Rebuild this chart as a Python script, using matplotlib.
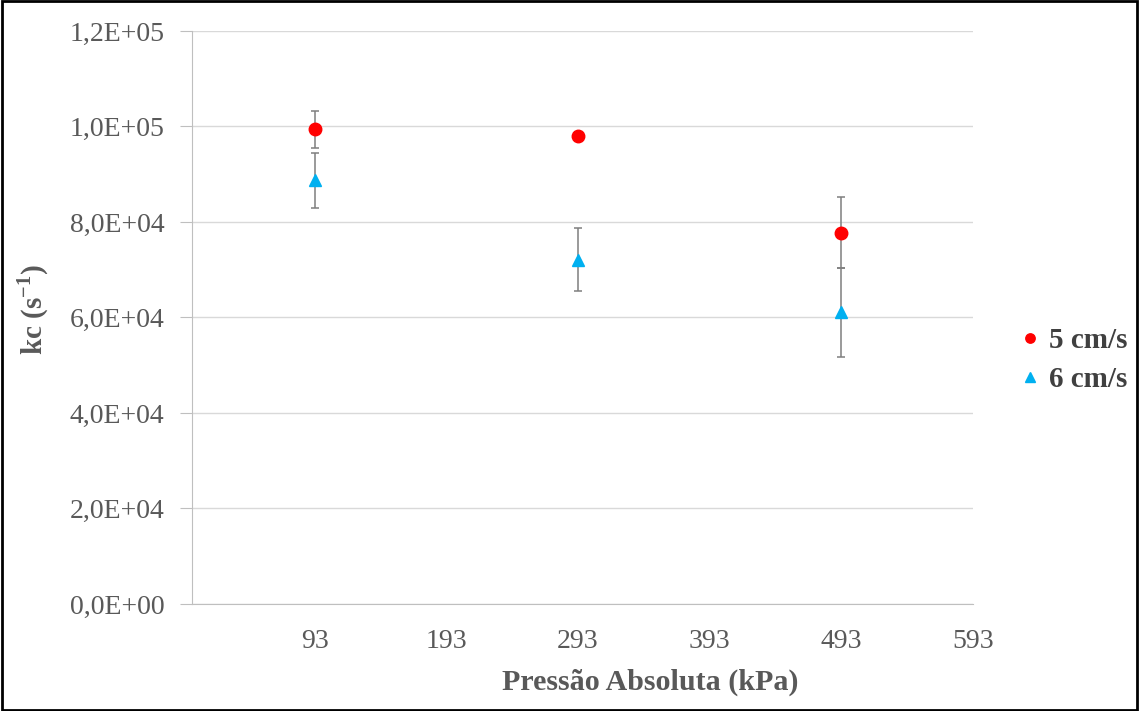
import matplotlib.pyplot as plt
from matplotlib.ticker import FuncFormatter

# data
pressao = [93, 293, 493]
kc_5 = [99400, 98000, 77800]
err_5 = [3800, 800, 7400]
kc_6 = [88700, 72100, 61100]
err_6 = [5800, 6600, 9300]
xticks = [93, 193, 293, 393, 493, 593]

plt.rcParams['font.family'] = ['Liberation Serif', 'DejaVu Serif']
plt.rcParams['mathtext.fontset'] = 'custom'
plt.rcParams['mathtext.rm'] = 'Liberation Serif'
plt.rcParams['mathtext.bf'] = 'Liberation Serif:bold'

fig = plt.figure(figsize=(11.39, 7.11), dpi=100)
ax = fig.add_axes([0.1686, 0.1505, 0.6857, 0.8059])

ax.errorbar(pressao, kc_5, yerr=err_5, fmt='none', ecolor='#7f7f7f', elinewidth=1.1, capsize=3, capthick=1.1, zorder=2)
ax.errorbar(pressao, kc_6, yerr=err_6, fmt='none', ecolor='#7f7f7f', elinewidth=1.1, capsize=3, capthick=1.1, zorder=2)
ax.plot(pressao, kc_5, 'o', color='#ff0000', markersize=9, label='5 cm/s', zorder=3)
ax.plot(pressao, kc_6, '^', color='#00b0f0', markersize=9, label='6 cm/s', zorder=3)

ax.set_xlim(0, 593)
ax.set_ylim(0, 120000)
ax.set_xticks(xticks)
ax.set_yticks(range(0, 120001, 20000))
ax.yaxis.set_major_formatter(FuncFormatter(lambda v, p: '{:.1E}'.format(v).replace('.', ',')))
ax.grid(axis='y', color='#d9d9d9', linewidth=1)
ax.set_axisbelow(True)

for s in ['top', 'right']:
    ax.spines[s].set_visible(False)
for s in ['left', 'bottom']:
    ax.spines[s].set_color('#bfbfbf')
ax.tick_params(axis='y', length=9, color='#bfbfbf', labelsize=20, labelcolor='#595959', pad=11)
ax.tick_params(axis='x', length=0, labelsize=20, labelcolor='#595959', pad=18)

# axis titles placed like the original (x title sits right of centre)
fig.text(650 / 1139, 1 - 682 / 711, 'Pressão Absoluta (kPa)', fontsize=21.6, fontweight='bold',
         color='#595959', ha='center', va='center')
fig.text(33 / 1139, 1 - 310 / 711, 'kc (s$^{\\mathbf{-1}}$)', fontsize=21, fontweight='bold',
         color='#595959', ha='center', va='center', rotation=90)

leg = fig.legend(loc='center left', bbox_to_anchor=(1023 / 1139, 1 - 360 / 711), frameon=False,
                 borderpad=0, borderaxespad=0, handlelength=0.5, handletextpad=0.4,
                 labelspacing=0.4, markerscale=0.75, prop={'size': 21, 'weight': 'bold'})
for t in leg.get_texts():
    t.set_color('#404040')

# frame around the whole picture
fig.patches.append(plt.Rectangle((0.002, 0.002), 0.996, 0.996, transform=fig.transFigure,
                                 fill=False, edgecolor='black', linewidth=2))

fig.savefig('out.png', dpi=100)
